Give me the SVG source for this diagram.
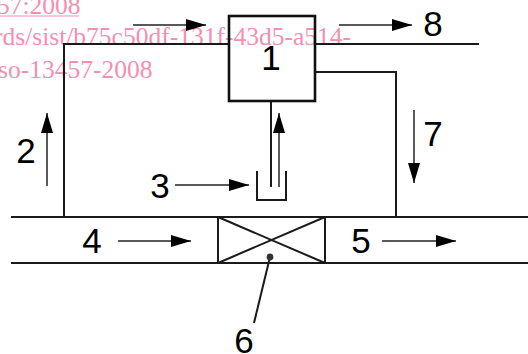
<svg xmlns="http://www.w3.org/2000/svg" width="528" height="354" viewBox="0 0 528 354">
<defs>
<marker id="ah" markerUnits="userSpaceOnUse" markerWidth="20" markerHeight="12" refX="20" refY="6" orient="auto"><path d="M0 0L20 6L0 12Z" fill="#000"/></marker>
</defs>
<style>
.w{font:25.5px "Liberation Serif",serif;fill:#f48fb1}
.n{font:35px "Liberation Sans",sans-serif;fill:#000;text-anchor:middle}
.l{fill:none;stroke:#1a1a1a;stroke-width:2}
.t{fill:none;stroke:#111;stroke-width:2.6}
.a{fill:none;stroke:#222;stroke-width:1.5;marker-end:url(#ah)}
</style>
<rect width="528" height="354" fill="#fff"/>
<g id="watermark">
<text class="w" x="-3" y="14">57:2008</text>
<line x1="0" y1="16" x2="79" y2="16" stroke="#f48fb1" stroke-width="1.2"/>
<text class="w" x="-6" y="45">rds/sist/b75c50df-131f-43d5-a514-</text>
<text class="w" x="-2" y="78">so-13457-2008</text>
</g>
<g id="connectors">
<path class="l" d="M64 217V44H229"/>
<path class="l" d="M315 44H479"/>
<path class="l" d="M315 72H396V217"/>
<path class="l" d="M271 101V187"/>
<path class="l" d="M11 217H218M325 217H528"/>
<path class="l" d="M11 263H218M325 263H528"/>
<path class="l" d="M270 257L254 323" stroke-width="1.3"/>
<path class="a" d="M133 25H206"/>
<path class="a" d="M339 25H412"/>
<path class="a" d="M47 186V113"/>
<path class="a" d="M279 187V113"/>
<path class="a" d="M414 110V183"/>
<path class="a" d="M175 185H249"/>
<path class="a" d="M118 241H191"/>
<path class="a" d="M382 241H456"/>
</g>
<g id="node-1"><rect class="t" x="229" y="16" width="86" height="85"/></g>
<g id="node-sensor"><path class="l" d="M257 171V200H286V171" stroke-width="2.6"/></g>
<g id="node-valve"><path class="l" d="M218 217H325V263H218ZM218 217L325 263M218 263L325 217" stroke-width="2.4"/><circle cx="270" cy="257" r="3.4" fill="#333"/></g>
<g id="labels">
<text class="n" x="271" y="70">1</text>
<text class="n" x="26" y="163">2</text>
<text class="n" x="160" y="198">3</text>
<text class="n" x="92" y="253">4</text>
<text class="n" x="361" y="253">5</text>
<text class="n" x="244" y="353">6</text>
<text class="n" x="433" y="146">7</text>
<text class="n" x="433" y="36">8</text>
</g>
</svg>
